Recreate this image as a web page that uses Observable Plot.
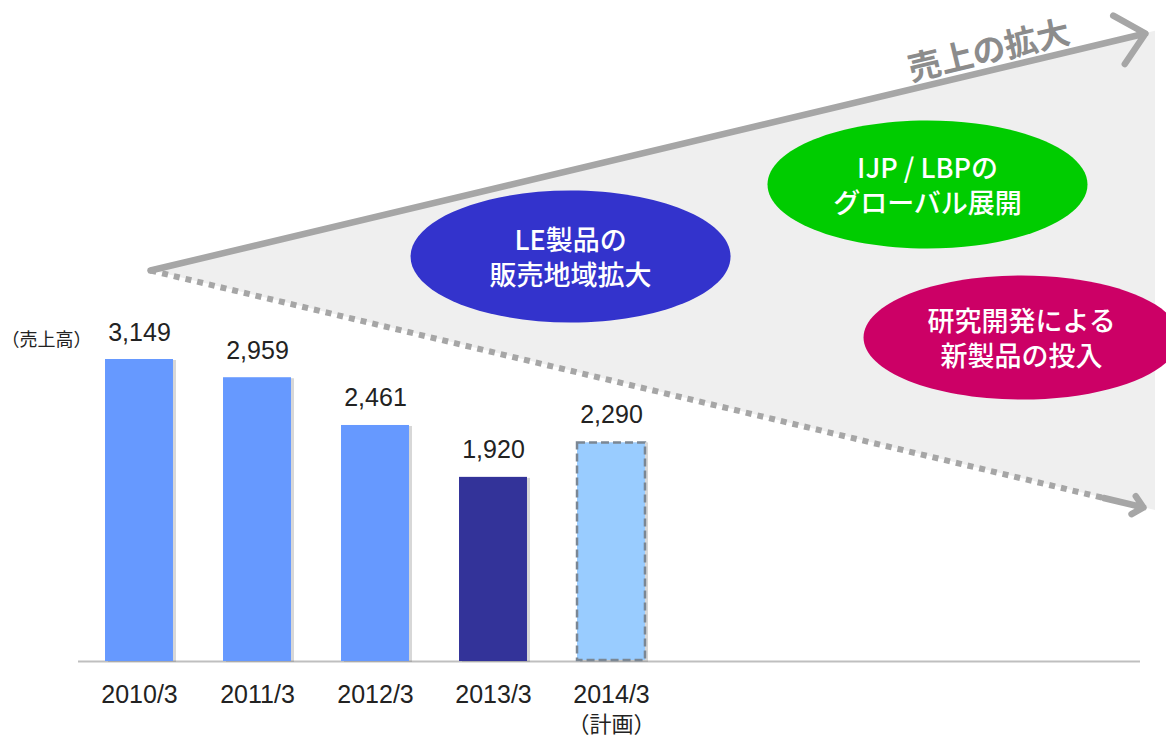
<!DOCTYPE html>
<html>
<head>
<meta charset="utf-8">
<script src="https://cdn.jsdelivr.net/npm/d3@7"></script>
<script src="https://cdn.jsdelivr.net/npm/@observablehq/plot@0.6"></script>
<style>
  html, body { margin: 0; padding: 0; background: #fff; overflow: hidden; }
  #chart { position: relative; width: 1166px; height: 738px; }
  svg { overflow: visible; }
</style>
</head>
<body>
<div id="chart"></div>
<script>
// ---- Chart data ----
const periods = ["2010/3", "2011/3", "2012/3", "2013/3", "2014/3"];
const periodNotes = ["", "", "", "", "（計画）"];
const sales = [3149, 2959, 2461, 1920, 2290];
const status = ["実績", "実績", "実績", "直近", "計画"];
const yAxisLabel = "（売上高）";

// ---- Diagram annotations (in chart units: x = period index, y = sales) ----
const arrowTitle = "売上の拡大";
const fanStart = {x: 0.093, y: 4077};
const fanUpperEnd = {x: 8.525, y: 6548};
const fanLowerEnd = {x: 8.508, y: 1606};
const fanEdge = {x: 8.61, lo: 1575, hi: 6573};
const titleAnchor = {x: 7.2, y: 6360};
const bubbleTexts = ["LE製品の\n販売地域拡大", "IJP / LBPの\nグローバル展開", "研究開発による\n新製品の投入"];
const bubbleX = [3.653, 6.678, 7.475];
const bubbleY = [4223, 4974, 3378];
const unitLabelAnchor = {x: -1.17, y: 3347};

const data = periods.map((p, i) => ({i, period: p, note: periodNotes[i], value: sales[i], status: status[i]}));
const bubbles = bubbleTexts.map((t, i) => ({text: t, x: bubbleX[i], y: bubbleY[i]}));

const fan = [
  {x: fanStart.x, lo: fanStart.y, hi: fanStart.y},
  {x: fanEdge.x, lo: fanEdge.lo, hi: fanEdge.hi}
];

function ellipseSymbol(rx, ry) {
  const k = 0.5522847498;
  return {
    draw(ctx) {
      ctx.moveTo(rx, 0);
      ctx.bezierCurveTo(rx, ry * k, rx * k, ry, 0, ry);
      ctx.bezierCurveTo(-rx * k, ry, -rx, ry * k, -rx, 0);
      ctx.bezierCurveTo(-rx, -ry * k, -rx * k, -ry, 0, -ry);
      ctx.bezierCurveTo(rx * k, -ry, rx, -ry * k, rx, 0);
      ctx.closePath();
    }
  };
}
const bubbleStyles = [
  {fill: "#3333cc", rx: 160, ry: 66},
  {fill: "#00cc00", rx: 160, ry: 64},
  {fill: "#cc0066", rx: 158, ry: 62}
];

const lowerHeadStart = {
  x: fanStart.x + (fanLowerEnd.x - fanStart.x) * 0.96,
  y: fanStart.y + (fanLowerEnd.y - fanStart.y) * 0.96
};

const jp = "'Noto Sans CJK JP', 'Noto Sans', sans-serif";
const num = "'Liberation Sans', Arial, sans-serif";
const half = 0.288;

const plot = Plot.plot({
  width: 1166,
  height: 738,
  marginLeft: 78,
  marginRight: 26,
  marginTop: 0,
  marginBottom: 0,
  style: {background: "transparent", overflow: "visible"},
  x: {type: "linear", domain: [0, 4], range: [139, 611], axis: null},
  y: {type: "linear", domain: [0, 3149], range: [661, 359], axis: null},
  color: {type: "ordinal", domain: ["実績", "直近", "計画"], range: ["#6699ff", "#333399", "#99ccff"]},
  marks: [
    // fan background
    Plot.areaY(fan, {x: "x", y1: "lo", y2: "hi", fill: "#efefef"}),
    // upper solid arrow
    Plot.arrow([0], {
      x1: () => fanStart.x, y1: () => fanStart.y, x2: () => fanUpperEnd.x, y2: () => fanUpperEnd.y,
      stroke: "#a6a6a6", strokeWidth: 6.5, headLength: 8.5, headAngle: 85, strokeLinecap: "round", strokeLinejoin: "round"
    }),
    // lower dotted line
    Plot.link([0], {
      x1: () => fanStart.x, y1: () => fanStart.y, x2: () => lowerHeadStart.x, y2: () => lowerHeadStart.y,
      stroke: "#a6a6a6", strokeWidth: 6, strokeDasharray: "6,6"
    }),
    Plot.arrow([0], {
      x1: () => lowerHeadStart.x, y1: () => lowerHeadStart.y, x2: () => fanLowerEnd.x, y2: () => fanLowerEnd.y,
      stroke: "#a6a6a6", strokeWidth: 6.5, headLength: 8.5, headAngle: 85, strokeLinecap: "round", strokeLinejoin: "round"
    }),
    // title along arrow
    Plot.text([arrowTitle], {
      x: () => titleAnchor.x, y: () => titleAnchor.y, text: d => d,
      rotate: -13.4, fontSize: 33, fontWeight: "bold", fill: "#8c8c8c", fontFamily: jp
    }),
    // bubbles
    ...bubbles.map((b, i) => Plot.dot([b], {
      x: "x", y: "y", r: 10,
      symbol: ellipseSymbol(bubbleStyles[i].rx, bubbleStyles[i].ry),
      fill: bubbleStyles[i].fill, stroke: "none"
    })),
    Plot.text(bubbles, {
      x: "x", y: "y", text: "text", fill: "white", fontSize: 27, fontWeight: 500,
      lineHeight: 1.3, fontFamily: jp
    }),
    // baseline
    Plot.ruleY([0], {stroke: "#bfbfbf", strokeWidth: 2}),
    // bar shadows
    Plot.rect(data, {
      x1: d => d.i - half, x2: d => d.i + half, y1: 0, y2: "value",
      fill: "#7a7a7a", fillOpacity: 0.3, dx: 3, dy: 1
    }),
    // bars
    Plot.rect(data.filter(d => d.status !== "計画"), {
      x1: d => d.i - half, x2: d => d.i + half, y1: 0, y2: "value", fill: "status"
    }),
    Plot.rect(data.filter(d => d.status === "計画"), {
      x1: d => d.i - half, x2: d => d.i + half, y1: 0, y2: "value", fill: "status",
      stroke: "#7b8794", strokeWidth: 2.5, strokeDasharray: "8,4", insetTop: 1, insetBottom: 1
    }),
    // value labels
    Plot.text(data, {
      x: "i", y: "value", text: d => d3.format(",")(d.value), dy: -27,
      fontSize: 25, fill: "#222", fontFamily: num
    }),
    // period labels
    Plot.text(data, {
      x: "i", y: () => 0, text: "period", dy: 33, fontSize: 25, fill: "#222", fontFamily: num
    }),
    Plot.text(data.filter(d => d.note), {
      x: "i", y: () => 0, text: "note", dy: 63, fontSize: 22, fill: "#222", fontFamily: jp
    }),
    // unit label
    Plot.text([yAxisLabel], {
      x: () => unitLabelAnchor.x, y: () => unitLabelAnchor.y, text: d => d,
      textAnchor: "start", fontSize: 18, fill: "#222", fontFamily: jp
    })
  ]
});

document.getElementById("chart").appendChild(plot);
</script>
</body>
</html>
